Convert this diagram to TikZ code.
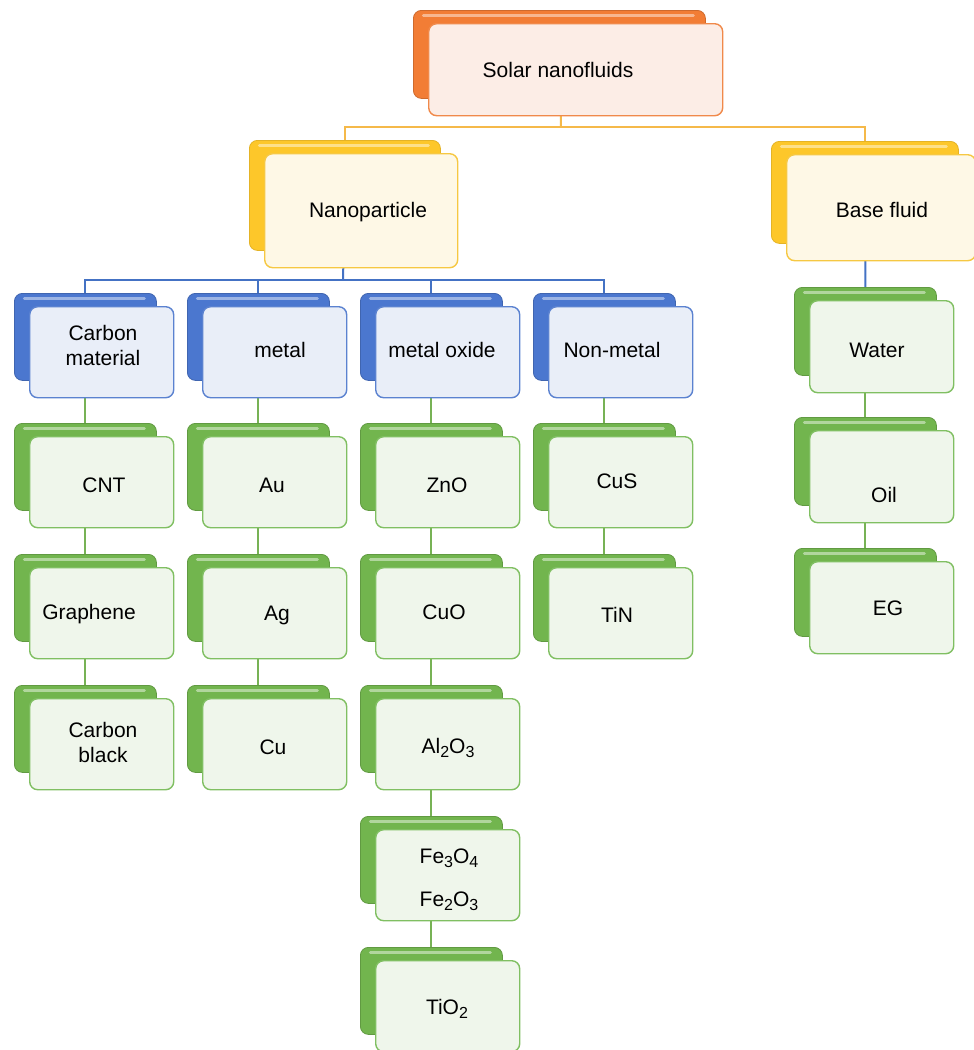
\documentclass[tikz,border=0pt]{standalone}
\usepackage{fontspec}
\setmainfont{Liberation Sans}
\usetikzlibrary{calc}
\pgfdeclarelayer{bg}
\pgfsetlayers{bg,main}
\definecolor{oBack}{HTML}{F27D35}
\definecolor{oFront}{HTML}{FCEDE6}
\definecolor{oEdge}{HTML}{F0894A}
\definecolor{yBack}{HTML}{FDC72A}
\definecolor{yFront}{HTML}{FEF8E6}
\definecolor{yEdge}{HTML}{F6C843}
\definecolor{bBack}{HTML}{4B77CF}
\definecolor{bFront}{HTML}{E9EEF8}
\definecolor{bEdge}{HTML}{5B82D0}
\definecolor{gBack}{HTML}{72B54E}
\definecolor{gFront}{HTML}{EFF6EB}
\definecolor{gEdge}{HTML}{80BF62}
\definecolor{oLine}{HTML}{F5B94A}
\definecolor{bLine}{HTML}{4472C4}
\definecolor{gLine}{HTML}{77B255}
\newcommand\sbs[1]{\raisebox{-0.38ex}{\fontsize{16}{16}\selectfont #1}}
\tikzset{
  boxbase/.style={rectangle, rounded corners=8pt, inner sep=0pt, anchor=north west},
  hilite/.style={path picture={\draw[white, opacity=0.45, line width=3pt, line cap=round]
      ([xshift=10pt,yshift=-5pt]path picture bounding box.north west) --
      ([xshift=-12pt,yshift=-5pt]path picture bounding box.north east);}},
  oback/.style={boxbase, fill=oBack, draw=oBack!85!black, line width=0.8pt, hilite},
  ofront/.style={boxbase, fill=oFront, draw=oEdge, line width=1.4pt},
  yback/.style={boxbase, fill=yBack, draw=yBack!90!black, line width=0.8pt, hilite},
  yfront/.style={boxbase, fill=yFront, draw=yEdge, line width=1.4pt},
  bback/.style={boxbase, fill=bBack, draw=bBack!85!black, line width=0.8pt, hilite},
  bfront/.style={boxbase, fill=bFront, draw=bEdge, line width=1.4pt},
  gback/.style={boxbase, fill=gBack, draw=gBack!85!black, line width=0.8pt, hilite},
  gfront/.style={boxbase, fill=gFront, draw=gEdge, line width=1.4pt},
  txt/.style={font=\fontsize{21}{25}\selectfont, align=center, inner sep=0pt, text=black},
  oline/.style={draw=oLine, line width=2pt},
  bline/.style={draw=bLine, line width=2pt},
  gline/.style={draw=gLine, line width=2pt},
}
% name, x, y, w, h, colour prefix, text x, text y, text
\newcommand\ent[9]{%
  \node[#6back, minimum width=#4pt, minimum height=#5pt] (#1b) at (#2,#3) {};
  \node[#6front, minimum width=#4pt+2pt, minimum height=#5pt+4pt] (#1) at (#2+15,#3+13) {};
  \node[txt] (#1t) at (#7,#8) {#9};
}
\begin{document}
\begin{tikzpicture}[x=1pt,y=-1pt]
\useasboundingbox (0,0) rectangle (974,1050);
\ent{solar}{413}{10}{292}{88}{o}{558}{70}{Solar nanofluids}
\ent{nano}{249}{140}{191}{110}{y}{368}{212}{Nanoparticle}
\ent{base}{771}{141}{187}{102}{y}{882}{210}{Base fluid}
\ent{carbon}{14}{293}{142}{87}{b}{103}{345}{Carbon\\material}
\ent{metal}{187}{293}{142}{87}{b}{280}{350}{metal}
\ent{oxide}{360}{293}{142}{87}{b}{442}{350}{metal oxide}
\ent{nonmetal}{533}{293}{142}{87}{b}{612}{350}{Non-metal}
\ent{water}{794}{287}{142}{88}{g}{877}{350}{Water}
\ent{cnt}{14}{423}{142}{87}{g}{104}{485}{CNT}
\ent{graph}{14}{554}{142}{87}{g}{89}{614}{Graphene}
\ent{cblack}{14}{685}{142}{87}{g}{103}{742}{Carbon\\black}
\ent{au}{187}{423}{142}{87}{g}{272}{485}{Au}
\ent{ag}{187}{554}{142}{87}{g}{277}{615}{Ag}
\ent{cu}{187}{685}{142}{87}{g}{273}{747}{Cu}
\ent{zno}{360}{423}{142}{87}{g}{447}{485}{ZnO}
\ent{cuo}{360}{554}{142}{87}{g}{444}{612}{CuO}
\ent{al}{360}{685}{142}{87}{g}{448}{748}{Al\sbs{2}O\sbs{3}}
\ent{fe}{360}{816}{142}{87}{g}{449}{880}{Fe\sbs{3}O\sbs{4}\\[18pt]Fe\sbs{2}O\sbs{3}}
\ent{tio}{360}{947}{142}{87}{g}{447}{1009}{TiO\sbs{2}}
\ent{cus}{533}{423}{142}{87}{g}{617}{481}{CuS}
\ent{tin}{533}{554}{142}{87}{g}{617}{615}{TiN}
\ent{oil}{794}{417}{142}{88}{g}{884}{495}{Oil}
\ent{eg}{794}{548}{142}{88}{g}{888}{608}{EG}
\coordinate (obus) at (561,127);
\coordinate (bbus) at (343,280);
\begin{pgfonlayer}{bg}
  \draw[oline] (solarb.center) -- (obus);
  \draw[oline] (nanob.north) |- (obus) -| (baseb.north);
  \draw[bline] (nanob.center) -- (bbus);
  \draw[bline] (carbonb.north) |- (bbus) -| (nonmetalb.north);
  \draw[bline] (metalb.north) -- (metalb.north |- bbus);
  \draw[bline] (oxideb.north) -- (oxideb.north |- bbus);
  \draw[bline] (baseb.center) -- (waterb.north);
  \draw[gline] (carbonb.center) -- (cntb.center) -- (graphb.center) -- (cblackb.center);
  \draw[gline] (metalb.center) -- (aub.center) -- (agb.center) -- (cub.center);
  \draw[gline] (oxideb.center) -- (znob.center) -- (cuob.center) -- (alb.center) -- (feb.center) -- (tiob.center);
  \draw[gline] (nonmetalb.center) -- (cusb.center) -- (tinb.center);
  \draw[gline] (waterb.center) -- (oilb.center) -- (egb.center);
\end{pgfonlayer}
\end{tikzpicture}
\end{document}
